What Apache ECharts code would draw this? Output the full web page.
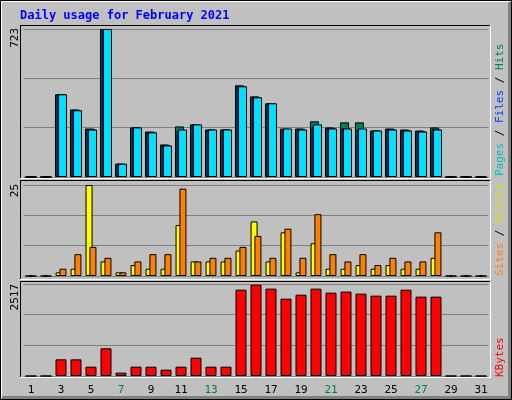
<!DOCTYPE html>
<html><head><meta charset="utf-8">
<script src="https://cdn.jsdelivr.net/npm/echarts@6/dist/echarts.min.js"></script>
<style>html,body{margin:0;padding:0;background:#C0C0C0}#c{width:512px;height:400px}</style>
</head><body><div id="c"></div>
<script>
const days = Array.from({length:31},(_,i)=>String(i+1));
const hits   = [0,0,404,330,237,723,65,242,222,159,247,257,232,232,448,394,360,237,237,272,242,267,267,227,237,232,227,242,0,0,0];
const files  = [0,0,404,328,234,723,65,242,220,156,225,257,232,232,445,391,360,229,235,245,240,238,232,227,234,229,224,233,0,0,0];
const pages  = [0,0,404,326,232,723,65,242,218,154,232,257,232,232,443,389,360,237,232,257,237,237,237,227,232,227,222,232,0,0,0];
const visits = [0,0,1,2,25,4,1,3,2,2,14,4,4,4,7,15,4,12,1,9,2,2,3,2,3,2,2,5,0,0,0];
const sites  = [0,0,2,6,8,5,1,4,6,6,24,4,5,5,8,11,5,13,5,17,6,4,6,3,5,4,4,12,0,0,0];
const kbytes = [0,0,456,456,255,757,91,255,255,173,255,501,255,255,2362,2499,2390,2116,2225,2390,2280,2308,2253,2198,2198,2362,2171,2171,0,0,0];
const weekend = ['6','7','13','14','20','21','27','28'];
const maxTop = 723, maxMid = 25, maxBot = 2517;

const font = '"DejaVu Sans Mono", monospace';
const L = 23.5, R = 23.5;
const grids = [
  {left:L,right:R,top:29,height:148},
  {left:L,right:R,top:185,height:91},
  {left:L,right:R,top:284,height:92}
];
function xa(i,show){return {type:'category',gridIndex:i,data:days,axisLine:{show:false},axisTick:{show:false},
  axisLabel:{show:show,fontFamily:font,fontSize:11,margin:9,color:v=>weekend.includes(v)?'#008040':'#000'}};}
function ya(i,max){return {type:'value',gridIndex:i,min:0,max:max,interval:max/3,axisLabel:{show:false},axisLine:{show:false},axisTick:{show:false},
  splitLine:{lineStyle:{color:'#808080',width:1}}};}
const bs = {borderColor:'#000',borderWidth:1};
const series = [
  {type:'bar',xAxisIndex:0,yAxisIndex:0,data:hits,barWidth:9,barGap:'-83%',itemStyle:{color:'#008060',...bs}},
  {type:'bar',xAxisIndex:0,yAxisIndex:0,data:files,barWidth:9,barGap:'-83%',itemStyle:{color:'#0040FF',...bs}},
  {type:'bar',xAxisIndex:0,yAxisIndex:0,data:pages,barWidth:9,barGap:'-83%',itemStyle:{color:'#00E0FF',...bs}},
  {type:'bar',xAxisIndex:1,yAxisIndex:1,data:visits,barWidth:7,barGap:'-45%',itemStyle:{color:'#FFFF00',...bs}},
  {type:'bar',xAxisIndex:1,yAxisIndex:1,data:sites,barWidth:7,barGap:'-45%',itemStyle:{color:'#FF8000',...bs}},
  {type:'bar',xAxisIndex:2,yAxisIndex:2,data:kbytes,barWidth:11,itemStyle:{color:'#FF0000',...bs}}
];
function frame(y1,y2){return [
  {type:'line',shape:{x1:20,y1:y1,x2:490,y2:y1},style:{stroke:'#000',lineWidth:1}},
  {type:'line',shape:{x1:20.5,y1:y1,x2:20.5,y2:y2},style:{stroke:'#000',lineWidth:1}},
  {type:'line',shape:{x1:20,y1:y2,x2:491,y2:y2},style:{stroke:'#fff',lineWidth:1}},
  {type:'line',shape:{x1:490.5,y1:y1,x2:490.5,y2:y2},style:{stroke:'#fff',lineWidth:1}}
];}
function vtext(x,y,rich,text){return {type:'text',x:x,y:y,rotation:Math.PI/2,style:{text:text,rich:rich,font:'11px '+font,align:'right',verticalAlign:'middle',fill:'#000'}};}
const graphic = [
  {type:'rect',shape:{x:0.5,y:0.5,width:511,height:399},style:{fill:'none',stroke:'#000',lineWidth:1}},
  {type:'line',shape:{x1:1,y1:1.5,x2:510,y2:1.5},style:{stroke:'#fff'}},
  {type:'line',shape:{x1:1.5,y1:1,x2:1.5,y2:398},style:{stroke:'#fff'}},
  {type:'line',shape:{x1:2,y1:397.5,x2:511,y2:397.5},style:{stroke:'#808080',lineWidth:3}},
  {type:'line',shape:{x1:509.5,y1:2,x2:509.5,y2:399},style:{stroke:'#808080',lineWidth:3}},
  ...frame(25.5,178.5),...frame(180.5,279.5),...frame(281.5,377.5),
  {type:'text',x:20,y:16,style:{text:'Daily usage for February 2021',font:'bold 12px '+font,fill:'#0000FF',verticalAlign:'middle'}},
  vtext(15,28,{},'723'),
  vtext(15,184,{},'25'),
  vtext(15,284,{},'2517'),
  {type:'text',x:500,y:176,rotation:Math.PI/2,style:{text:'{p|Pages}{s| / }{f|Files}{s| / }{h|Hits}',font:'11px '+font,verticalAlign:'middle',align:'left',
    rich:{p:{fill:'#00C0C0',font:'11px '+font},s:{fill:'#000',font:'11px '+font},f:{fill:'#0040FF',font:'11px '+font},h:{fill:'#008060',font:'11px '+font}}}},
  {type:'text',x:500,y:276,rotation:Math.PI/2,style:{text:'{o|Sites}{s| / }{y|Visits}',font:'11px '+font,verticalAlign:'middle',align:'left',
    rich:{o:{fill:'#FF8000',font:'11px '+font},s:{fill:'#000',font:'11px '+font},y:{fill:'#E0E000',font:'11px '+font}}}},
  {type:'text',x:500,y:377,rotation:Math.PI/2,style:{text:'KBytes',font:'11px '+font,fill:'#FF0000',verticalAlign:'middle',align:'left'}}
];
const chart = echarts.init(document.getElementById('c'),null,{renderer:'canvas'});
chart.setOption({backgroundColor:'#C0C0C0',animation:false,grid:grids,
  xAxis:[xa(0,false),xa(1,false),xa(2,true)],yAxis:[ya(0,maxTop),ya(1,maxMid),ya(2,maxBot)],series:series,graphic:graphic});
</script></body></html>
